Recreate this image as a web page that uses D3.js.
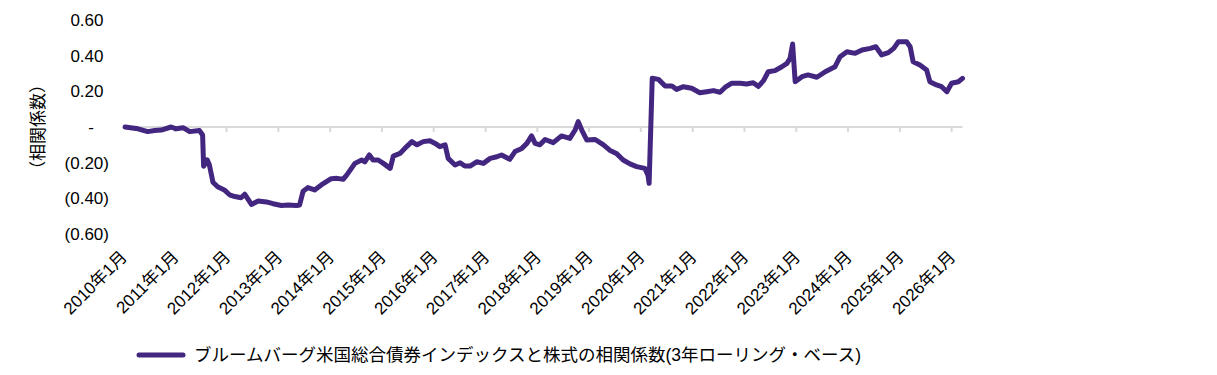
<!DOCTYPE html>
<html>
<head>
<meta charset="utf-8">
<script src="https://cdn.jsdelivr.net/npm/d3@7"></script>
<style>
  body { margin: 0; background: #fff; }
  svg text { font-family: "Liberation Sans", Arial, "Noto Sans CJK JP", sans-serif; fill: #000; }
</style>
</head>
<body>
<div id="chart"></div>
<script>
// series: 3-year rolling correlation, Bloomberg US Agg vs equities
const dates = [
  '2010-01-19','2010-04-20','2010-06-28','2010-08-15','2010-10-01','2010-12-10',
  '2011-01-15','2011-03-04','2011-04-20','2011-06-28','2011-07-20','2011-07-27','2011-08-22','2011-09-05','2011-10-01','2011-11-03','2011-12-20',
  '2012-01-26','2012-03-04','2012-04-16','2012-05-12','2012-06-28','2012-08-15','2012-10-12','2012-11-28',
  '2013-01-26','2013-03-15','2013-05-12','2013-06-03','2013-06-28','2013-07-31','2013-09-17','2013-11-03',
  '2014-01-12','2014-02-21','2014-04-06','2014-05-01','2014-06-28','2014-08-15','2014-09-06','2014-10-08','2014-11-03','2014-12-09',
  '2015-01-15','2015-03-04','2015-03-26','2015-05-12','2015-06-28','2015-08-04','2015-09-09','2015-10-23','2015-12-09',
  '2016-01-15','2016-02-17','2016-03-25','2016-04-16','2016-06-03','2016-07-09','2016-08-11','2016-09-17','2016-11-03','2016-12-20',
  '2017-02-06','2017-03-25','2017-04-27','2017-06-24','2017-07-31','2017-09-17','2017-10-23','2017-11-25','2017-12-20',
  '2018-01-23','2018-02-28','2018-04-27','2018-06-24','2018-08-22','2018-09-28','2018-10-20','2018-11-14','2018-12-20',
  '2019-02-17','2019-04-16','2019-05-30','2019-07-16','2019-09-02','2019-10-20','2019-12-06',
  '2020-02-02','2020-02-24','2020-03-03','2020-03-25','2020-05-08','2020-06-24','2020-08-11','2020-09-13','2020-10-31','2020-12-28',
  '2021-02-24','2021-04-13','2021-05-30','2021-07-16','2021-08-22','2021-10-05','2021-12-06',
  '2022-01-19','2022-03-07','2022-04-13','2022-05-19','2022-06-21','2022-08-08','2022-09-25','2022-10-31','2022-11-22','2022-12-10','2022-12-28',
  '2023-02-14','2023-03-29','2023-05-30','2023-07-28','2023-10-05','2023-11-10','2023-12-28',
  '2024-02-24','2024-04-13','2024-06-10','2024-07-19','2024-08-29','2024-10-15','2024-11-22','2024-12-25',
  '2025-02-21','2025-03-18','2025-04-08','2025-05-26','2025-07-12','2025-08-04','2025-09-20','2025-10-26','2025-12-02',
  '2026-01-04','2026-02-21','2026-03-22'
];
const corr = [
  0.00,-0.010,-0.026,-0.020,-0.017,0.000,
  -0.010,-0.004,-0.026,-0.020,-0.045,-0.220,-0.185,-0.210,-0.310,-0.335,-0.353,
  -0.380,-0.390,-0.397,-0.377,-0.434,-0.415,-0.420,-0.430,
  -0.440,-0.437,-0.440,-0.437,-0.360,-0.340,-0.353,-0.325,
  -0.290,-0.288,-0.293,-0.270,-0.204,-0.185,-0.195,-0.157,-0.185,-0.185,
  -0.204,-0.232,-0.163,-0.148,-0.110,-0.082,-0.100,-0.082,-0.077,
  -0.092,-0.110,-0.100,-0.176,-0.213,-0.200,-0.219,-0.219,-0.195,-0.204,
  -0.176,-0.167,-0.157,-0.181,-0.138,-0.120,-0.092,-0.050,-0.092,
  -0.100,-0.070,-0.088,-0.050,-0.064,-0.017,0.030,-0.017,-0.073,
  -0.070,-0.100,-0.130,-0.148,-0.185,-0.207,-0.222,
  -0.232,-0.270,-0.316,0.273,0.267,0.230,0.230,0.211,0.226,0.217,
  0.192,0.198,0.204,0.195,0.223,0.245,0.245,
  0.241,0.248,0.228,0.260,0.310,0.316,0.338,0.357,0.385,0.465,0.254,
  0.282,0.292,0.279,0.310,0.338,0.394,0.422,
  0.413,0.432,0.441,0.450,0.404,0.417,0.441,0.478,
  0.478,0.450,0.366,0.348,0.320,0.254,0.236,0.226,0.198,
  0.245,0.254,0.273
];
const yTicks = [0.6, 0.4, 0.2, 0, -0.2, -0.4, -0.6];
const yTickLabels = ['0.60', '0.40', '0.20', '-', '(0.20)', '(0.40)', '(0.60)'];
const xTickYears = d3.range(2010, 2027);
const yTitle = '（相関係数）';
const seriesName = 'ブルームバーグ米国総合債券インデックスと株式の相関係数(3年ローリング・ベース)';

const width = 1217, height = 375;
const lineColor = '#432680';

const parse = d3.timeParse('%Y-%m-%d');
const data = dates.map((d, i) => ({ date: parse(d), value: corr[i] }));

const svg = d3.select('#chart').append('svg')
  .attr('width', width)
  .attr('height', height);

const x = d3.scaleTime()
  .domain([new Date(2010, 0, 1), new Date(2026, 3, 1)])
  .range([122.5, 963.9]);

const y = d3.scaleLinear()
  .domain([-0.6, 0.6])
  .range([234, 20]);

// zero line
svg.append('line')
  .attr('x1', x(data[0].date) - 1)
  .attr('x2', x(data[data.length - 1].date))
  .attr('y1', y(0))
  .attr('y2', y(0))
  .attr('stroke', '#d9d9d9')
  .attr('stroke-width', 2);

// tick marks on the zero line
const tickDates = xTickYears.slice(1).map(yr => new Date(yr, 0, 1));
const tickAxis = svg.append('g')
  .attr('transform', `translate(0,${y(0)})`)
  .call(d3.axisBottom(x).tickValues(tickDates).tickSize(5).tickFormat(''));
tickAxis.select('.domain').remove();
tickAxis.selectAll('line').attr('stroke', '#d9d9d9').attr('stroke-width', 2);

// year labels
const labelAxis = svg.append('g')
  .attr('transform', 'translate(0,250)')
  .call(d3.axisBottom(x)
    .tickValues(xTickYears.map(yr => new Date(yr, 0, 1)))
    .tickSize(0)
    .tickFormat(d3.timeFormat('%Y年%-m月')));
labelAxis.select('.domain').remove();
labelAxis.selectAll('text')
  .attr('font-size', 17)
  .attr('font-family', '"Liberation Sans", Arial, "Noto Sans CJK JP", sans-serif')
  .attr('fill', '#000')
  .attr('text-anchor', 'end')
  .attr('x', 0)
  .attr('y', 0)
  .attr('dy', 0)
  .attr('transform', 'translate(5,8) rotate(-45)');

// y labels
svg.append('g').selectAll('text')
  .data(yTicks)
  .join('text')
  .attr('x', (d, i) => yTickLabels[i] === '-' ? 94 : (d < 0 ? 109 : 103.5))
  .attr('y', d => y(d))
  .attr('dy', '0.36em')
  .attr('text-anchor', 'end')
  .attr('font-size', 17)
  .text((d, i) => yTickLabels[i]);

// y title
svg.append('text')
  .attr('transform', `translate(44,${y(0)}) rotate(-90)`)
  .attr('text-anchor', 'middle')
  .attr('font-size', 17)
  .attr('font-family', '"Noto Sans CJK JP", sans-serif')
  .text(yTitle);

// series line
const line = d3.line()
  .x(d => x(d.date))
  .y(d => y(d.value));

svg.append('path')
  .datum(data)
  .attr('fill', 'none')
  .attr('stroke', lineColor)
  .attr('stroke-width', 5)
  .attr('stroke-linejoin', 'round')
  .attr('stroke-linecap', 'round')
  .attr('d', line);

// legend
svg.append('line')
  .attr('x1', 139).attr('x2', 183)
  .attr('y1', 355).attr('y2', 355)
  .attr('stroke', lineColor)
  .attr('stroke-width', 5)
  .attr('stroke-linecap', 'round');
svg.append('text')
  .attr('x', 194)
  .attr('y', 355)
  .attr('dy', '0.36em')
  .attr('font-size', 17.5)
  .attr('font-family', '"Noto Sans CJK JP", sans-serif')
  .text(seriesName);
</script>
</body>
</html>
